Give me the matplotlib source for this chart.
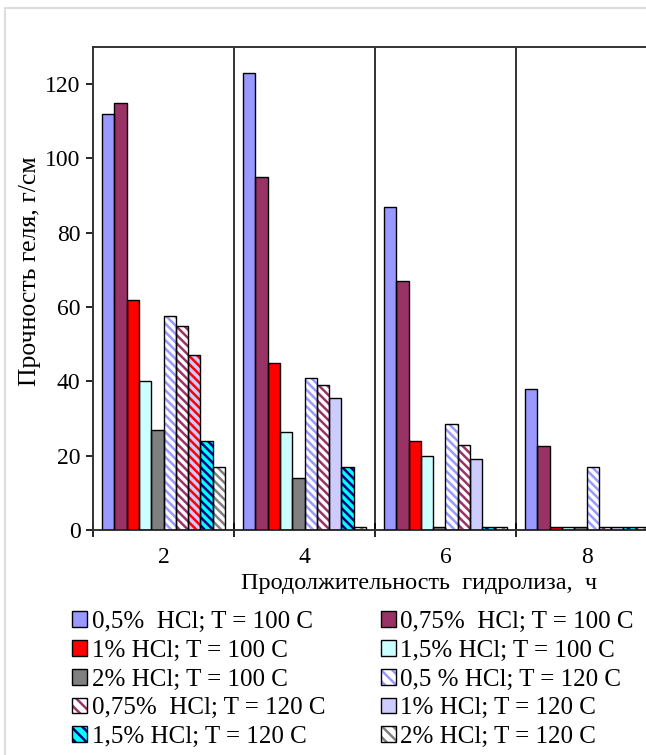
import matplotlib
matplotlib.use("Agg")
import matplotlib.pyplot as plt
from matplotlib.patches import Rectangle, Patch
import numpy as np

plt.rcParams['font.family'] = ['Liberation Serif', 'DejaVu Serif']
plt.rcParams['hatch.linewidth'] = 1.8

hours = ['2', '4', '6', '8']
labels = ['0,5%  HCl; T = 100 C', '0,75%  HCl; T = 100 C',
          '1% HCl; T = 100 C', '1,5% HCl; T = 100 C',
          '2% HCl; T = 100 C', '0,5 % HCl; T = 120 C',
          '0,75%  HCl; T = 120 C', '1% HCl; T = 120 C',
          '1,5% HCl; T = 120 C', '2% HCl; T = 120 C']

s1 = [112, 123, 87, 38]
s2 = [115, 95, 67, 22.5]
s3 = [62, 45, 24, 0.8]
s4 = [40, 26.5, 20, 0.8]
s5 = [27, 14, 0.8, 0.8]
s6 = [57.5, 41, 28.5, 17]
s7 = [55, 39, 23, 0.8]
s8 = [47, 35.5, 19, 0.8]
s9 = [24, 17, 0.8, 0.8]
s10 = [17, 0.8, 0.8, 0.8]
series = [s1, s2, s3, s4, s5, s6, s7, s8, s9, s10]

# (face, hatch colour or None)
styles = [('#9999FF', None), ('#993366', None), ('#FF0000', None),
          ('#CCFFFF', None), ('#808080', None), ('white', '#9999FF'),
          ('white', '#993366'), ('#CCCCFF', None), ('#00FFFF', '#000080'),
          ('white', '#808080')]
HATCH = '\\\\\\\\'

fig = plt.figure(figsize=(6.46, 7.55), dpi=100)
fig.patches.append(Rectangle((5/646, -0.1), 2, 1.1 - 8/755, transform=fig.transFigure,
                             fill=False, edgecolor='#DDDDDD', lw=1.5))
ax = fig.add_axes([93/646, 1 - 530/755, 564/646, 483/755])

x = np.arange(len(hours))
w = 0.087
for j, vals in enumerate(series):
    face, hc = styles[j]
    pos = x + (j - 4.5) * w
    for i, v in enumerate(vals):
        f, h = face, hc
        if j == 7 and i == 0:
            h = '#FF0000'  # this one point is striped in the source
        if h:
            ax.bar(pos[i], v, w, color=f, edgecolor=h, hatch=HATCH, lw=0, zorder=2)
        else:
            ax.bar(pos[i], v, w, color=f, lw=0, zorder=2)
        ax.bar(pos[i], v, w, fill=False, edgecolor='black', lw=1.0, zorder=3)

for b in [0.5, 1.5, 2.5]:
    ax.axvline(b, color='#333333', lw=1.4, zorder=1)

ax.set_xlim(-0.5, 3.5)
ax.set_ylim(0, 130)
ax.set_yticks(range(0, 121, 20))
ax.set_xticks([-0.5, 0.5, 1.5, 2.5, 3.5])
ax.set_xticklabels([])
ax.set_xticks(x, minor=True)
ax.set_xticklabels(hours, minor=True)
ax.tick_params(axis='x', which='major', direction='inout', length=10, width=1.2)
ax.tick_params(axis='x', which='minor', length=0, pad=12, labelsize=17)
ax.tick_params(axis='y', direction='out', length=5, width=1.2, labelsize=17, pad=4)
for s in ['left', 'top', 'bottom']:
    ax.spines[s].set_linewidth(1.4)
    ax.spines[s].set_color('#333333')
ax.spines['right'].set_visible(False)

ax.set_ylabel('Прочность геля, г/см', fontsize=18.5)
ax.yaxis.set_label_coords(-0.092, 0.535)
fig.text(419/646, 1 - 584/755, 'Продолжительность  гидролиза,  ч', fontsize=17.5,
         ha='center', va='center')

handles = []
for j in range(10):
    face, hc = styles[j]
    box = Patch(facecolor='none', edgecolor='black', lw=1)
    if hc:
        handles.append((Patch(facecolor=face, edgecolor=hc, hatch='\\\\\\', lw=0), box))
    else:
        handles.append((Patch(facecolor=face, lw=0), box))

# legend fills columns first, source reads row by row
order = [0, 2, 4, 6, 8, 1, 3, 5, 7, 9]
leg = fig.legend([handles[k] for k in order], [labels[k] for k in order], ncol=2,
                 loc='upper left', bbox_to_anchor=(72/646, 1 - 611/755), frameon=False,
                 fontsize=18, handlelength=0.6, handleheight=0.6,
                 handletextpad=0.2, labelspacing=0.27, columnspacing=2.2,
                 borderaxespad=0, borderpad=0)

fig.savefig('out.png', dpi=100)
